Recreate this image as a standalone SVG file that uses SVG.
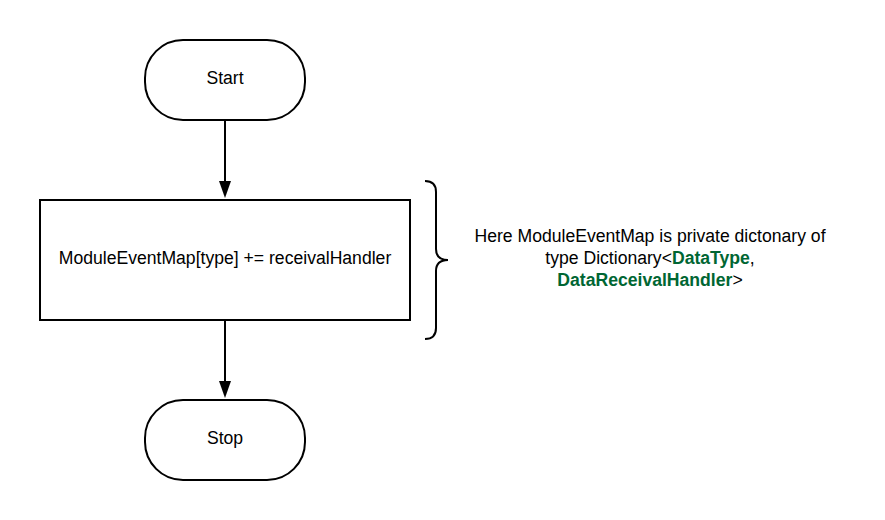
<svg xmlns="http://www.w3.org/2000/svg" width="885" height="520" viewBox="0 0 885 520">
<style>
.shape{fill:#fff;stroke:#000;stroke-width:2}
.lbl{font-family:"Liberation Sans",Arial,sans-serif;font-size:17.6px;fill:#000;text-anchor:middle}
.conn{stroke:#000;stroke-width:2;fill:none}
.g{fill:#006633;font-weight:bold}
</style>
<rect width="885" height="520" fill="#fff"/>
<g id="connectors">
<line class="conn" x1="225" y1="120" x2="225" y2="182"/>
<path d="M219,181 L231,181 L225,198 Z" fill="#000"/>
<line class="conn" x1="225" y1="320" x2="225" y2="382"/>
<path d="M219,381 L231,381 L225,398 Z" fill="#000"/>
</g>
<g id="start">
<rect class="shape" x="145" y="40" width="160" height="80" rx="38" ry="38"/>
<text class="lbl" x="225" y="83.5">Start</text>
</g>
<g id="process">
<rect class="shape" x="40" y="200" width="370" height="120"/>
<text class="lbl" x="225" y="264">ModuleEventMap[type] += receivalHandler</text>
</g>
<g id="stop">
<rect class="shape" x="145" y="400" width="160" height="80" rx="38" ry="38"/>
<text class="lbl" x="225" y="443.5">Stop</text>
</g>
<g id="note">
<path class="conn" d="M425,181 Q436,181 436,192 L436,249 Q436,260 448,260 Q436,260 436,271 L436,328 Q436,339 425,339"/>
<text class="lbl" x="650" y="242">Here ModuleEventMap is private dictonary of</text>
<text class="lbl" x="650" y="264">type Dictionary&lt;<tspan class="g">DataType</tspan>,</text>
<text class="lbl" x="650" y="286"><tspan class="g">DataReceivalHandler</tspan>&gt;</text>
</g>
</svg>
